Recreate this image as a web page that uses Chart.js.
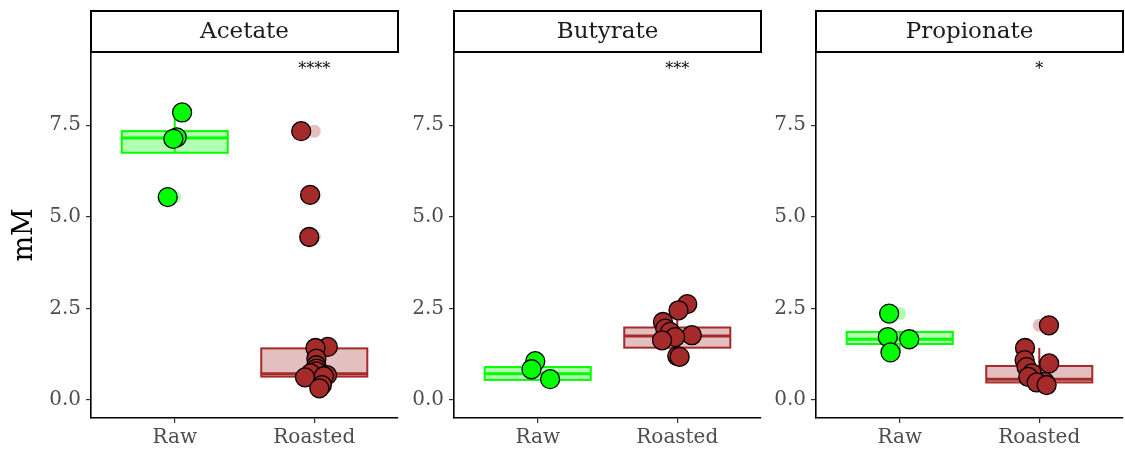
<!DOCTYPE html>
<html>
<head>
<meta charset="utf-8">
<script src="https://cdn.jsdelivr.net/npm/chart.js@4/dist/chart.umd.min.js"></script>
<style>
  html, body { margin: 0; padding: 0; background: #fff; }
  #wrap { position: relative; width: 1125px; height: 450px; background: #fff; overflow: hidden; }
  #wrap canvas { position: absolute; top: 0; }
</style>
</head>
<body>
<div id="wrap"></div>
<script>
// ---- data -------------------------------------------------------------
const categories = ['Raw', 'Roasted'];
const acids = ['Acetate', 'Butyrate', 'Propionate'];
const yTicks = [0, 2.5, 5, 7.5];
const yLabel = 'mM';
const sigLabels = ['****', '***', '*'];

// individual measurements (mM)
const acetateRaw = [7.85, 7.17, 7.13, 5.54];
const acetateRoasted = [7.34, 5.60, 4.45, 1.45, 1.42, 1.13, 0.95, 0.86, 0.78, 0.73, 0.68, 0.65, 0.62, 0.41, 0.32];
const butyrateRaw = [1.06, 0.84, 0.57];
const butyrateRoasted = [2.62, 2.45, 2.13, 1.95, 1.86, 1.77, 1.72, 1.63, 1.20, 1.18];
const propionateRaw = [2.36, 1.72, 1.66, 1.30];
const propionateRoasted = [2.04, 1.42, 1.09, 1.00, 0.90, 0.73, 0.63, 0.50, 0.48, 0.41];

// box summaries [q1, median, q3]
const acetateBox = [[6.75, 7.15, 7.34], [0.64, 0.72, 1.41]];
const butyrateBox = [[0.55, 0.72, 0.90], [1.43, 1.75, 1.98]];
const propionateBox = [[1.53, 1.66, 1.86], [0.48, 0.57, 0.93]];

const pointsByAcid = [[acetateRaw, acetateRoasted], [butyrateRaw, butyrateRoasted], [propionateRaw, propionateRoasted]];
const boxesByAcid = [acetateBox, butyrateBox, propionateBox];

// ---- styling ----------------------------------------------------------
const groupColor = ['#00ff00', '#a52a2a'];
const groupFill = ['rgba(0,255,0,0.3)', 'rgba(165,42,42,0.3)'];
const groupFaint = ['rgba(0,255,0,0.3)', 'rgba(165,42,42,0.3)'];
const FONT = "'DejaVu Serif', serif";
const plotLeft = [91, 454, 816];
const plotWidth = 307;
const axisW = [91, 60, 60];
const Y_MIN = -0.49, Y_MAX = 9.5;
const BOX_HALF = 0.38;

// deterministic horizontal jitter
function jitter(i, k) {
  const s = Math.sin((i + 1) * 12.9898 + (k + 1) * 78.233) * 43758.5453;
  return ((s - Math.floor(s)) - 0.5) * 0.22;
}

function whiskers(vals, box) {
  const [q1, , q3] = box;
  const iqr = q3 - q1;
  const lo = q1 - 1.5 * iqr, hi = q3 + 1.5 * iqr;
  const inside = vals.filter(v => v >= lo && v <= hi);
  return {
    lo: Math.min(...inside), hi: Math.max(...inside),
    out: vals.filter(v => v < lo || v > hi)
  };
}

const panelPlugin = {
  id: 'panelDecor',
  beforeDatasetsDraw(chart) {
    const p = chart.options.plugins.panelDecor;
    const ctx = chart.ctx, xs = chart.scales.x, ys = chart.scales.y;
    p.boxes.forEach((box, g) => {
      const vals = p.points[g];
      const w = whiskers(vals, box);
      const cx = xs.getPixelForValue(g + 1);
      const x0 = xs.getPixelForValue(g + 1 - BOX_HALF), x1 = xs.getPixelForValue(g + 1 + BOX_HALF);
      const yq1 = ys.getPixelForValue(box[0]), ymed = ys.getPixelForValue(box[1]), yq3 = ys.getPixelForValue(box[2]);
      ctx.save();
      ctx.strokeStyle = groupColor[g];
      ctx.lineWidth = 2;
      ctx.beginPath();
      ctx.moveTo(cx, yq3); ctx.lineTo(cx, ys.getPixelForValue(w.hi));
      ctx.moveTo(cx, yq1); ctx.lineTo(cx, ys.getPixelForValue(w.lo));
      ctx.stroke();
      // outliers
      ctx.fillStyle = groupFaint[g];
      w.out.forEach(v => {
        ctx.beginPath();
        ctx.arc(cx, ys.getPixelForValue(v), 6.5, 0, Math.PI * 2);
        ctx.fill();
      });
      // box
      ctx.fillStyle = groupFill[g];
      ctx.fillRect(x0, yq3, x1 - x0, yq1 - yq3);
      ctx.strokeRect(x0, yq3, x1 - x0, yq1 - yq3);
      ctx.lineWidth = 3;
      ctx.beginPath();
      ctx.moveTo(x0, ymed); ctx.lineTo(x1, ymed);
      ctx.stroke();
      ctx.restore();
    });
  },
  afterDraw(chart) {
    const p = chart.options.plugins.panelDecor;
    const ctx = chart.ctx, a = chart.chartArea, xs = chart.scales.x, ys = chart.scales.y;
    ctx.save();
    // strip
    ctx.fillStyle = '#fff';
    ctx.fillRect(a.left, 11, a.right - a.left, a.top - 11);
    ctx.strokeStyle = '#000';
    ctx.lineWidth = 2;
    ctx.strokeRect(a.left, 11, a.right - a.left, a.top - 11);
    ctx.fillStyle = '#1a1a1a';
    ctx.font = '23px ' + FONT;
    ctx.textAlign = 'center';
    ctx.textBaseline = 'middle';
    ctx.fillText(p.title, (a.left + a.right) / 2, (11 + a.top) / 2 + 1);
    // significance label
    ctx.fillStyle = '#000';
    ctx.font = '16px ' + FONT;
    ctx.fillText(p.sig, xs.getPixelForValue(2), ys.getPixelForValue(9.0));
    // y title
    if (p.yTitle) {
      ctx.translate(25, (a.top + a.bottom) / 2);
      ctx.rotate(-Math.PI / 2);
      ctx.font = '27px ' + FONT;
      ctx.fillText(p.yTitle, 0, 0);
    }
    ctx.restore();
  }
};

const wrap = document.getElementById('wrap');
acids.forEach((acid, i) => {
  const cv = document.createElement('canvas');
  const W = axisW[i] + plotWidth + 2;
  cv.width = W; cv.height = 450;
  cv.style.left = (plotLeft[i] - axisW[i]) + 'px';
  cv.style.width = W + 'px'; cv.style.height = '450px';
  wrap.appendChild(cv);

  const datasets = categories.map((cat, g) => ({
    label: cat,
    data: pointsByAcid[i][g].map((v, k) => ({ x: g + 1 + jitter(k, i * 2 + g), y: v })),
    backgroundColor: groupColor[g],
    borderColor: '#000',
    borderWidth: 1.3,
    pointRadius: 9.5,
    pointHoverRadius: 9.5
  }));

  new Chart(cv, {
    type: 'scatter',
    data: { datasets },
    plugins: [panelPlugin],
    options: {
      responsive: false,
      animation: false,
      devicePixelRatio: 1,
      layout: { autoPadding: false, padding: { top: 52, right: 2, left: 0, bottom: 0 } },
      plugins: {
        legend: { display: false },
        tooltip: { enabled: false },
        panelDecor: { title: acid, sig: sigLabels[i], boxes: boxesByAcid[i], points: pointsByAcid[i], yTitle: i === 0 ? yLabel : null }
      },
      scales: {
        x: {
          type: 'linear', min: 0.4, max: 2.6,
          afterBuildTicks: s => { s.ticks = categories.map((c, g) => ({ value: g + 1 })); },
          afterFit: s => { s.height = 32; s.paddingLeft = 0; s.paddingRight = 0; },
          ticks: { callback: v => categories[v - 1], color: '#4d4d4d', font: { family: FONT, size: 20 }, padding: 3, maxRotation: 0 },
          grid: { drawOnChartArea: false, tickLength: 5, color: '#333', lineWidth: 1.2 },
          border: { display: true, color: '#000', width: 1.6 }
        },
        y: {
          type: 'linear', min: Y_MIN, max: Y_MAX,
          afterBuildTicks: s => { s.ticks = yTicks.map(v => ({ value: v })); },
          afterFit: s => { s.width = axisW[i]; s.paddingTop = 0; s.paddingBottom = 0; },
          ticks: { callback: v => v.toFixed(1), color: '#4d4d4d', font: { family: FONT, size: 20 }, padding: 5 },
          grid: { drawOnChartArea: false, tickLength: 5, color: '#333', lineWidth: 1.2 },
          border: { display: true, color: '#000', width: 1.6 }
        }
      }
    }
  });
});
</script>
</body>
</html>
